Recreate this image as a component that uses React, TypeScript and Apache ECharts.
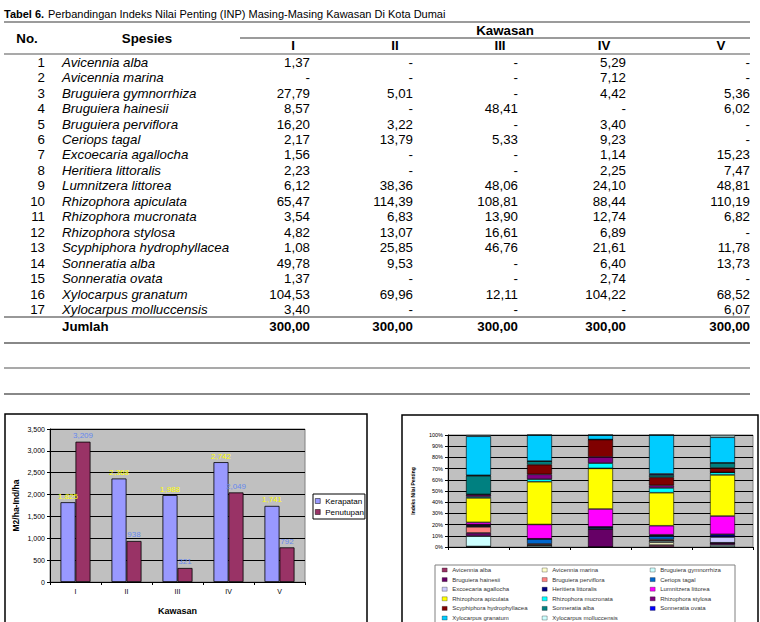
import React, { useEffect, useRef } from "react";
import * as echarts from "echarts";

const kawasan = ["I", "II", "III", "IV", "V"];
const species = [
  "Avicennia alba",
  "Avicennia marina",
  "Bruguiera gymnorrhiza",
  "Bruguiera hainesii",
  "Bruguiera perviflora",
  "Ceriops tagal",
  "Excoecaria agallocha",
  "Heritiera littoralis",
  "Lumnitzera littorea",
  "Rhizophora apiculata",
  "Rhizophora mucronata",
  "Rhizophora stylosa",
  "Scyphiphora hydrophyllacea",
  "Sonneratia alba",
  "Sonneratia ovata",
  "Xylocarpus granatum",
  "Xylocarpus molluccensis",
];
const inpI = [1.37, 0, 27.79, 8.57, 16.2, 2.17, 1.56, 2.23, 6.12, 65.47, 3.54, 4.82, 1.08, 49.78, 1.37, 104.53, 3.4];
const inpII = [0, 0, 5.01, 0, 3.22, 13.79, 0, 0, 38.36, 114.39, 6.83, 13.07, 25.85, 9.53, 0, 69.96, 0];
const inpIII = [0, 0, 0, 48.41, 0, 5.33, 0, 0, 48.06, 108.81, 13.9, 16.61, 46.76, 0, 0, 12.11, 0];
const inpIV = [5.29, 7.12, 4.42, 0, 3.4, 9.23, 1.14, 2.25, 24.1, 88.44, 12.74, 6.89, 21.61, 6.4, 2.74, 104.22, 0];
const inpV = [0, 0, 5.36, 6.02, 0, 0, 15.23, 7.47, 48.81, 110.19, 6.82, 0, 11.78, 13.73, 0, 68.52, 6.07];
const jumlah = [300, 300, 300, 300, 300];
const kerapatan = [1825, 2368, 1988, 2742, 1741];
const penutupan = [3209, 938, 321, 2049, 792];
const speciesColors = [
  "#993366", "#FFFFCC", "#CCFFFF", "#660066", "#FF8080", "#0066CC",
  "#CCCCFF", "#000080", "#FF00FF", "#FFFF00", "#00FFFF", "#800080",
  "#800000", "#008080", "#0000FF", "#00CCFF", "#CCFFFF",
];

const FAM = '"Liberation Sans", Arial, sans-serif';
const fmtNum = (v: number) => (v === 0 ? "-" : v.toFixed(2).replace(".", ","));
const addCommas = (v: number) => String(v).replace(/\B(?=(\d{3})+(?!\d))/g, ",");

function txt(text: string, x: number, y: number, size: number, align = "left", weight = "normal", style = "normal", fill = "#000") {
  return {
    type: "text",
    x,
    y,
    silent: true,
    style: {
      text,
      fill,
      font: `${style} ${weight} ${size}px ${FAM}`,
      align,
      verticalAlign: "middle",
    },
  };
}
function hline(x1: number, x2: number, y: number, stroke: string, w: number) {
  return { type: "line", silent: true, shape: { x1, y1: y, x2, y2: y }, style: { stroke, lineWidth: w } };
}

export default function App() {
  const ref = useRef<HTMLDivElement>(null);
  useEffect(() => {
    if (!ref.current) return;
    const chart = echarts.init(ref.current, undefined, { renderer: "svg" });
    const cols = [inpI, inpII, inpIII, inpIV, inpV];
    const totals = cols.map((c) => c.reduce((a, b) => a + b, 0));

    const colRight = [310, 413, 518, 626, 750];
    const headCenter = [293, 395, 500, 604, 721];
    const rowY0 = 62.2;
    const rowStep = 15.46;
    const FS = 13.3;

    const graphics: any[] = [];
    graphics.push(txt("Tabel 6.", 4, 14, 11, "left", "bold"));
    graphics.push(txt("Perbandingan Indeks Nilai Penting (INP) Masing-Masing Kawasan Di Kota Dumai", 48, 14, 11, "left"));
    graphics.push(hline(4, 750, 22, "#7a7a7a", 1.6));
    graphics.push(txt("No.", 27, 38, FS, "center", "bold"));
    graphics.push(txt("Spesies", 147, 38, FS, "center", "bold"));
    graphics.push(txt("Kawasan", 505, 30, FS, "center", "bold"));
    graphics.push(hline(240, 750, 38, "#7a7a7a", 1.6));
    kawasan.forEach((k, i) => graphics.push(txt(k, headCenter[i], 45.5, FS, "center", "bold")));
    graphics.push(hline(4, 750, 54, "#555", 1.2));
    species.forEach((s, r) => {
      const y = rowY0 + r * rowStep;
      graphics.push(txt(String(r + 1), 45, y, FS, "right"));
      graphics.push(txt(s, 62, y, FS, "left", "normal", "italic"));
      cols.forEach((c, ci) => graphics.push(txt(fmtNum(c[r]), colRight[ci], y, FS, "right")));
    });
    graphics.push(hline(4, 750, 317, "#333", 1.2));
    graphics.push(txt("Jumlah", 62, 326, FS, "left", "bold"));
    jumlah.forEach((v, ci) => graphics.push(txt(v.toFixed(2).replace(".", ","), colRight[ci], 326, FS, "right", "bold")));
    graphics.push(hline(4, 750, 343, "#888", 2));
    graphics.push(hline(4, 750, 368, "#555", 1.2));
    graphics.push(hline(4, 750, 394, "#888", 2));

    // chart boxes
    graphics.push({ type: "rect", silent: true, z: -10, shape: { x: 5, y: 414, width: 362, height: 230 }, style: { fill: "none", stroke: "#000", lineWidth: 1.5 } });
    graphics.push({ type: "rect", silent: true, z: -10, shape: { x: 402, y: 415, width: 356, height: 230 }, style: { fill: "none", stroke: "#000", lineWidth: 1.5 } });
    graphics.push({ type: "rect", silent: true, z: -10, shape: { x: 435, y: 565, width: 300, height: 80 }, style: { fill: "none", stroke: "#808080", lineWidth: 1 } });

    const legendCols = [0, 1, 2].map((c) => species.filter((_, i) => i % 3 === c));
    const legendLefts = [442, 542, 650];

    const axisBlack = { lineStyle: { color: "#000", width: 1 } };

    const option: any = {
      animation: false,
      textStyle: { fontFamily: FAM },
      graphic: graphics,
      grid: [
        { left: 50, top: 429, width: 255, height: 153, show: true, backgroundColor: "#C0C0C0", borderColor: "#808080", borderWidth: 1 },
        { left: 448, top: 435, width: 305, height: 112, show: true, backgroundColor: "#C0C0C0", borderColor: "#808080", borderWidth: 1 },
      ],
      xAxis: [
        {
          type: "category",
          gridIndex: 0,
          data: kawasan,
          axisLine: axisBlack,
          axisTick: { show: true, length: 3, lineStyle: { color: "#000" } },
          axisLabel: { fontSize: 7, color: "#000", margin: 6 },
          name: "Kawasan",
          nameLocation: "middle",
          nameGap: 24,
          nameTextStyle: { fontWeight: "bold", fontSize: 9, color: "#000" },
        },
        {
          type: "category",
          gridIndex: 1,
          data: kawasan,
          axisLine: axisBlack,
          axisTick: { show: true, length: 3, lineStyle: { color: "#000" } },
          axisLabel: { show: false },
        },
      ],
      yAxis: [
        {
          type: "value",
          gridIndex: 0,
          min: 0,
          max: 3500,
          interval: 500,
          axisLine: { show: true, ...axisBlack },
          axisTick: { show: true, length: 3, lineStyle: { color: "#000" } },
          axisLabel: { fontSize: 7, color: "#000", margin: 5, formatter: (v: number) => addCommas(v) },
          splitLine: { lineStyle: { color: "#000", width: 1 } },
          name: "M2/ha-Ind/ha",
          nameLocation: "middle",
          nameGap: 30,
          nameTextStyle: { fontWeight: "bold", fontSize: 8.5, color: "#000" },
        },
        {
          type: "value",
          gridIndex: 1,
          min: 0,
          max: 100,
          interval: 10,
          axisLine: { show: true, ...axisBlack },
          axisTick: { show: true, length: 3, lineStyle: { color: "#000" } },
          axisLabel: { fontSize: 5.5, color: "#000", margin: 5, formatter: "{value}%" },
          splitLine: { lineStyle: { color: "#000", width: 1 } },
          name: "Indeks Nilai Penting",
          nameLocation: "middle",
          nameGap: 33,
          nameTextStyle: { fontWeight: "bold", fontSize: 5, color: "#000" },
        },
      ],
      legend: [
        {
          data: ["Kerapatan", "Penutupan"],
          orient: "vertical",
          left: 313,
          top: 494,
          icon: "rect",
          itemWidth: 5,
          itemHeight: 5,
          itemGap: 1,
          padding: [2, 1, 2, 2],
          borderColor: "#000",
          borderWidth: 1,
          selectedMode: false,
          itemStyle: { borderWidth: 0.5 },
          textStyle: { fontSize: 8, color: "#000", lineHeight: 10 },
        },
        ...legendCols.map((names, i) => ({
          data: names,
          orient: "vertical",
          left: legendLefts[i],
          top: 566,
          height: 90,
          icon: "rect",
          itemWidth: 5,
          itemHeight: 4,
          itemGap: 1.6,
          padding: 0,
          selectedMode: false,
          itemStyle: { borderWidth: 0.3 },
          textStyle: { fontSize: 6, color: "#333", lineHeight: 8 },
        })),
      ],
      series: [
        {
          name: "Kerapatan",
          type: "bar",
          xAxisIndex: 0,
          yAxisIndex: 0,
          data: kerapatan,
          barWidth: 15,
          barGap: "0%",
          itemStyle: { color: "#9999FF", borderColor: "#000", borderWidth: 0.8 },
          label: { show: true, position: "top", distance: 2, color: "#FFFF00", fontSize: 8, formatter: (p: any) => addCommas(p.value) },
        },
        {
          name: "Penutupan",
          type: "bar",
          xAxisIndex: 0,
          yAxisIndex: 0,
          data: penutupan,
          barWidth: 15,
          barGap: "0%",
          itemStyle: { color: "#993366", borderColor: "#000", borderWidth: 0.8 },
          label: { show: true, position: "top", distance: 2, color: "#6688EE", fontSize: 8, formatter: (p: any) => addCommas(p.value) },
        },
        ...species.map((name, si) => ({
          name,
          type: "bar",
          stack: "inp",
          xAxisIndex: 1,
          yAxisIndex: 1,
          barWidth: 25,
          data: cols.map((c, ci) => (c[si] / totals[ci]) * 100),
          itemStyle: { color: speciesColors[si], borderColor: "#000", borderWidth: 0.6 },
        })),
      ],
    };
    chart.setOption(option);
    return () => chart.dispose();
  }, []);
  return <div ref={ref} style={{ position: "absolute", left: 0, top: 0, width: 760, height: 622 }} />;
}
